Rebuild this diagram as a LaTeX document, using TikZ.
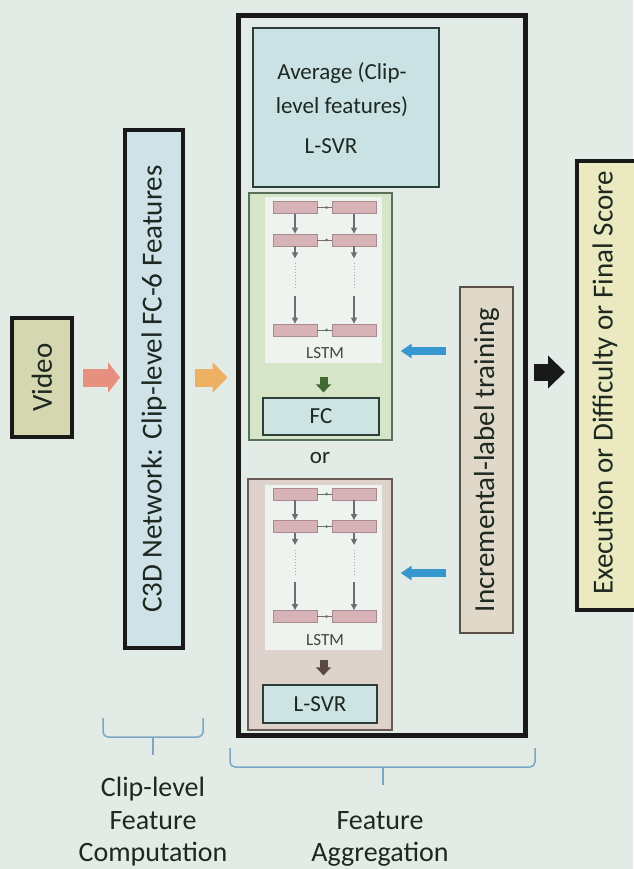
\documentclass[tikz,border=0pt]{standalone}
\usepackage{fontspec}
\setmainfont{Carlito}
\usetikzlibrary{arrows.meta,calc}
\definecolor{bgc}{HTML}{E3EBE7}
\definecolor{txt}{HTML}{1C2820}
\definecolor{videoF}{HTML}{D5D7B0}
\definecolor{c3dF}{HTML}{CFE2E8}
\definecolor{avgF}{HTML}{CBE2E4}
\definecolor{greenF}{HTML}{D6E5C8}
\definecolor{greenB}{HTML}{56705A}
\definecolor{whiteF}{HTML}{EEF3EF}
\definecolor{cellF}{HTML}{D7B3B8}
\definecolor{cellB}{HTML}{A98A90}
\definecolor{beigeF}{HTML}{DDD3CC}
\definecolor{beigeB}{HTML}{6A5A55}
\definecolor{fcF}{HTML}{CDE4E2}
\definecolor{darkB}{HTML}{2C3E38}
\definecolor{incF}{HTML}{E0D8C8}
\definecolor{incB}{HTML}{5A5048}
\definecolor{finF}{HTML}{EAE9C0}
\definecolor{pinkA}{HTML}{E8907F}
\definecolor{orangeA}{HTML}{EEB062}
\definecolor{blueA}{HTML}{3798CF}
\definecolor{dgreenA}{HTML}{3E6B32}
\definecolor{brownA}{HTML}{5B4A42}
\definecolor{braceC}{HTML}{7BA6C4}
\definecolor{arrG}{HTML}{6E6E6E}
\newcommand\lstmgrid[3]{%
  \node[cell] (#1a1) at (295,#2) {};
  \node[cell] (#1b1) at (354,#2) {};
  \node[cell] (#1a2) at (295,{#2+32.5}) {};
  \node[cell] (#1b2) at (354,{#2+32.5}) {};
  \node[cell] (#1a3) at (295,{#2+122.5}) {};
  \node[cell] (#1b3) at (354,{#2+122.5}) {};
  \foreach \r in {1,2,3}{
    \draw[arrG, line width=1pt] (#1a\r.east) -- (#1b\r.west);
    \fill[arrG] ($(#1b\r.west)+(-5,0)$) circle (1.6pt);
  }
  \foreach \c in {a,b}{
    \draw[garrow] (#1\c1.south) -- (#1\c2.north);
    \draw[garrow] (#1\c2.south) -- ++(0,12);
    \draw[arrG!60, line width=1pt, dotted] ([yshift=-17pt]#1\c2.south) -- ([yshift=-42pt]#1\c2.south);
    \draw[garrow] ([yshift=28pt]#1\c3.north) -- (#1\c3.north);
  }
  \node[lstmfont] (#3) at (325,{#2+146}) {LSTM};
}
\begin{document}
\begin{tikzpicture}[x=1pt,y=-1pt,
  thickbox/.style={draw=black!90, line width=4pt, inner sep=0pt},
  thinbox/.style={draw=#1, line width=1.3pt, inner sep=0pt},
  bigt/.style={font=\fontsize{29}{34}\selectfont, text=txt},
  midt/.style={font=\fontsize{23}{34}\selectfont, text=txt},
  lstmfont/.style={font=\fontsize{17}{20}\selectfont, text=txt!85},
  cell/.style={draw=cellB, fill=cellF, line width=0.8pt, minimum width=44pt, minimum height=12pt, inner sep=0pt},
  garrow/.style={draw=arrG, line width=1.2pt, -{Triangle[length=6pt,width=6pt]}},
  fatarrow/.style n args={4}{draw=#1, line width=#2, -{Triangle[length=#4,width=#3]}},
  bracestyle/.style={draw=braceC, line width=1.5pt, rounded corners=5pt}
]
\fill[bgc] (0,0) rectangle (633,869);
\useasboundingbox (0,0) rectangle (633,869);

% Video
\node[thickbox, fill=videoF, minimum width=60pt, minimum height=119pt] (video) at (42,377.5) {};
\node[bigt, rotate=90] (videot) at (video.center) {Video};

% C3D
\node[thickbox, fill=c3dF, minimum width=58pt, minimum height=518pt] (c3d) at (154,389) {};
\node[bigt, rotate=90] (c3dt) at (c3d.center) {C3D Network: Clip-level FC-6 Features};

% aggregation frame
\node[draw=black!90, line width=5pt, minimum width=287pt, minimum height=719pt, inner sep=0pt] (agg) at (381.5,375.5) {};

% average box
\node[thinbox=darkB, fill=avgF, minimum width=186pt, minimum height=159pt] (avg) at (346,107.5) {};
\node[midt, align=center] (avgt) at (342,90) {Average (Clip-\\level features)};
\node[midt] (avgs) at (331,146) {L-SVR};

\node[midt] (or1) at (331,210) {or};

% LSTM + FC
\node[thinbox=greenB, fill=greenF, minimum width=143pt, minimum height=247pt] (lstm1) at (320.5,316.5) {};
\node[fill=whiteF, minimum width=117pt, minimum height=166pt, inner sep=0pt] (w1) at (323.5,280) {};
\lstmgrid{g}{207.5}{lstmt1}
\node[thinbox=darkB, fill=fcF, minimum width=116pt, minimum height=37pt, midt] (fc) at (321,416.5) {FC};
\draw[fatarrow={dgreenA}{8pt}{15pt}{8pt}] ([yshift=-14pt]w1.south) -- ([yshift=5pt]w1.south |- fc.north);

\node[midt] (or2) at (320,458) {or};

% LSTM + L-SVR
\node[thinbox=beigeB, fill=beigeF, minimum width=144pt, minimum height=251pt] (lstm2) at (320,604.5) {};
\node[fill=whiteF, minimum width=117pt, minimum height=165pt, inner sep=0pt] (w2) at (323.5,567.5) {};
\lstmgrid{h}{494}{lstmt2}
\node[thinbox=darkB, fill=fcF, minimum width=114pt, minimum height=38pt, midt] (lsvr) at (320,704) {L-SVR};
\draw[fatarrow={brownA}{8pt}{15pt}{8pt}] ([yshift=-10pt]w2.south) -- ([yshift=9pt]w2.south |- lsvr.north);

% incremental
\node[thinbox=incB, fill=incF, minimum width=53pt, minimum height=346pt] (inc) at (486.5,460) {};
\node[bigt, rotate=90] (inct) at (inc.center) {Incremental-label training};

% final
\node[thickbox, fill=finF, minimum width=64pt, minimum height=449pt] (final) at (609,385.5) {};
\node[bigt, rotate=90] (finalt) at (605,383) {Execution or Difficulty or Final Score};

% fat arrows
\draw[fatarrow={pinkA}{18pt}{30pt}{12pt}] ([xshift=9pt]video.east) -- ([xshift=-3pt]video.east -| c3d.west);
\draw[fatarrow={orangeA}{18pt}{30pt}{15pt}] ([xshift=10pt]c3d.east |- video.east) -- ([xshift=-8pt]agg.west |- video.east);
\coordinate (blk) at (0,372);
\draw[fatarrow={black!90}{17pt}{32pt}{17pt}] ([xshift=6pt]agg.east |- blk) -- ([xshift=-10pt]final.west |- blk);
\coordinate (bl1) at (0,351);
\coordinate (bl2) at (0,573);
\draw[fatarrow={blueA}{8pt}{14pt}{11pt}] ([xshift=-13pt]inc.west |- bl1) -- ([xshift=8pt]lstm1.east |- bl1);
\draw[fatarrow={blueA}{8pt}{14pt}{11pt}] ([xshift=-13pt]inc.west |- bl2) -- ([xshift=8pt]lstm2.east |- bl2);

% braces
\draw[bracestyle] (103,718) -- (103,737) -- (203,737) -- (203,718);
\draw[draw=braceC, line width=1.5pt] (153,737) -- (153,755);
\draw[bracestyle] (230,748) -- (230,767) -- (535,767) -- (535,748);
\draw[draw=braceC, line width=1.5pt] (383,767) -- (383,785);
\node[font=\fontsize{28}{32.5}\selectfont, text=txt, align=center] (clt) at (153,822) {Clip-level\\Feature\\Computation};
\node[font=\fontsize{28}{32.5}\selectfont, text=txt, align=center] (fat) at (380,839) {Feature\\Aggregation};
\end{tikzpicture}
\end{document}
